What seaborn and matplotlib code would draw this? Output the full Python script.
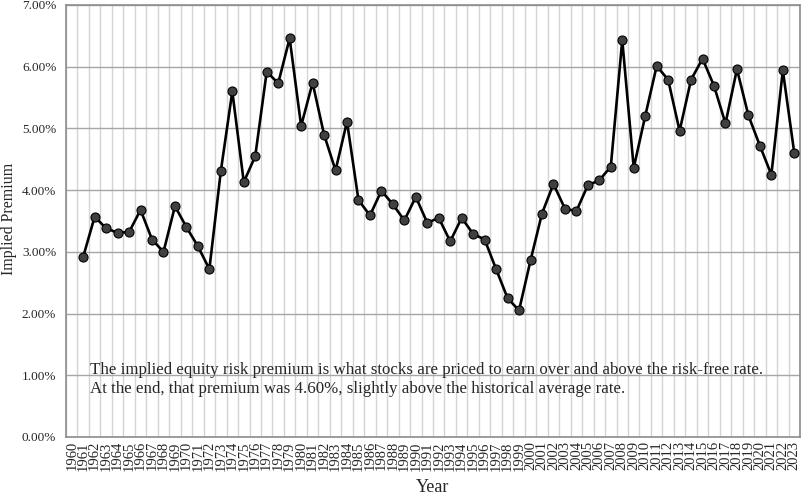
import numpy as np
import pandas as pd
import matplotlib
matplotlib.use("Agg")
import matplotlib.pyplot as plt
from matplotlib.ticker import FixedLocator, FuncFormatter
import seaborn as sns

# implied equity risk premium (%)
years = list(range(1961, 2024))
premium = [2.92, 3.57, 3.38, 3.31, 3.32, 3.68, 3.20, 3.00, 3.74, 3.40,
           3.09, 2.72, 4.31, 5.60, 4.13, 4.55, 5.92, 5.73, 6.46, 5.04,
           5.74, 4.90, 4.32, 5.11, 3.84, 3.59, 3.99, 3.77, 3.51, 3.89,
           3.47, 3.55, 3.17, 3.55, 3.29, 3.20, 2.72, 2.25, 2.05, 2.86,
           3.62, 4.10, 3.70, 3.66, 4.08, 4.16, 4.38, 6.43, 4.36, 5.20,
           6.01, 5.79, 4.96, 5.79, 6.13, 5.69, 5.08, 5.96, 5.21, 4.72,
           4.25, 5.94, 4.60]
tick_years = list(range(1960, 2024))
y_ticks = [0, 1, 2, 3, 4, 5, 6, 7]
note = ("The implied equity risk premium is what stocks are priced to earn over and above the risk-free rate.\n"
        "At the end, that premium was 4.60%, slightly above the historical average rate.")

df = pd.DataFrame({"Year": years, "Premium": premium})

sns.set_style("white")
plt.rcParams["font.family"] = ["Liberation Serif", "DejaVu Serif"]

fig = plt.figure(figsize=(8.03, 4.98), dpi=100)
ax = fig.add_axes([0.0822, 0.1225, 0.9141, 0.8675])

sns.lineplot(data=df, x="Year", y="Premium", ax=ax, color="black", linewidth=1.9,
             marker="o", markersize=6.5, markerfacecolor="#404040",
             markeredgecolor="black", markeredgewidth=0.8, zorder=3)

ax.set_xlim(tick_years[0] - 0.5, tick_years[-1] + 0.5)
ax.set_ylim(y_ticks[0], y_ticks[-1])

# category-style x axis: labels at centres, grid at boundaries
ax.set_xticks(tick_years)
ax.set_xticklabels([str(y) for y in tick_years], rotation=90, fontsize=10.5)
ax.xaxis.set_minor_locator(FixedLocator([y - 0.5 for y in tick_years] + [tick_years[-1] + 0.5]))
ax.tick_params(axis="x", which="major", length=0, pad=3)
ax.tick_params(axis="x", which="minor", direction="in", length=3, color="#909090")
ax.grid(axis="x", which="minor", color="#d4d4d4", linewidth=1)

ax.set_yticks(y_ticks)
ax.yaxis.set_major_formatter(FuncFormatter(lambda v, p: f"{v:.2f}%"))
ax.tick_params(axis="y", which="major", direction="out", length=5, color="#909090",
               labelsize=9.5, pad=2)
ax.grid(axis="y", which="major", color="#a6a6a6", linewidth=1)
ax.set_axisbelow(True)

for s in ax.spines.values():
    s.set_color("#8c8c8c")
    s.set_linewidth(1.2)

ax.set_xlabel("Year", fontsize=13)
ax.xaxis.label.set_va("center")
ax.xaxis.set_label_coords(0.5, -0.116)
ax.set_ylabel("Implied Premium", fontsize=11.5)
ax.yaxis.label.set_va("center")
ax.yaxis.set_label_coords(-0.078, 0.505)

ax.text(0.033, 0.133, note, transform=ax.transAxes, fontsize=12.2,
        va="center", ha="left", linespacing=1.28)

fig.savefig("out.png", dpi=100)
